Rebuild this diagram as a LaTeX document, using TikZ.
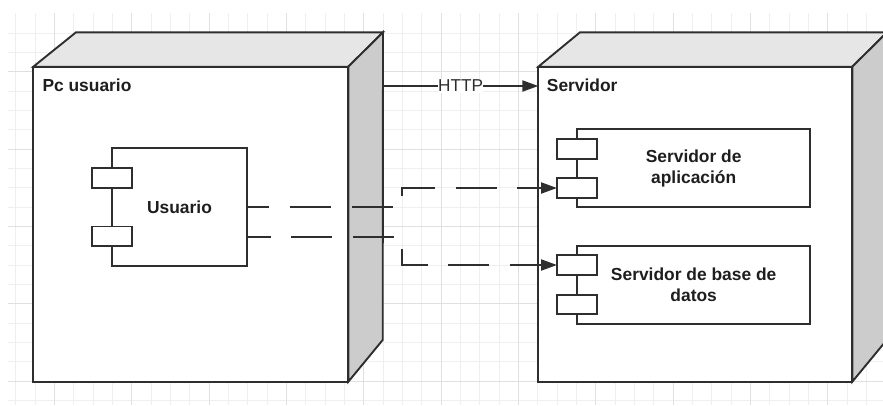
\documentclass[tikz,border=0pt]{standalone}
\usepackage{fontspec}
\setmainfont{Liberation Sans}
\usetikzlibrary{arrows.meta,calc}
\definecolor{edge}{HTML}{2E2E2E}
\definecolor{ink}{HTML}{1E1E1E}
\definecolor{topface}{HTML}{E6E6E6}
\definecolor{sideface}{HTML}{CCCCCC}
\definecolor{gridminor}{HTML}{EFEFEF}
\definecolor{gridmajor}{HTML}{E0E0E0}
\begin{document}
\begin{tikzpicture}[x=1pt,y=-1pt,
  box/.style={draw=edge, fill=white, line width=1.9pt, rectangle,
    inner sep=0pt, outer sep=0pt, anchor=north west},
  face/.style={draw=edge, line width=1.9pt, line join=miter},
  comp/.style={box, font=\fontsize{17.4}{21}\selectfont\bfseries, text=ink, align=center},
  port/.style={box, minimum width=40pt, minimum height=19.7pt},
  title/.style={anchor=base west, inner sep=0pt, text=ink,
    font=\fontsize{17.4}{21}\selectfont\bfseries},
  httplabel/.style={fill=white, inner xsep=0pt, inner ysep=1pt, text=edge,
    font=\fontsize{17.2}{21}\selectfont},
  flow/.style={draw=edge, line width=2pt, -{Triangle[length=16pt,width=11pt]}},
  dep/.style={draw=edge, line width=2pt, dash pattern=on 41pt off 20.6pt,
    -{Triangle[length=16pt,width=11pt]}}]

\useasboundingbox (0,0) rectangle (883,405);
\clip (0,0) rectangle (883,405);

% background grid
\foreach \k in {0,...,44}
  \draw[gridminor, line width=1pt] ({15.7+19.333*\k},13.3) -- ++(0,392);
\foreach \k in {1,...,20}
  \draw[gridminor, line width=1pt] (8,{13.7+19.333*\k}) -- (883,{13.7+19.333*\k});
\foreach \k in {2,6,...,42}
  \draw[gridmajor, line width=1pt] ({15.7+19.333*\k},13.3) -- ++(0,392);
\foreach \k in {3,7,...,19}
  \draw[gridmajor, line width=1pt] (8,{13.7+19.333*\k}) -- (883,{13.7+19.333*\k});

% node "Pc usuario"
\node[box, minimum width=315pt, minimum height=315pt] (pc) at (33.3,66.7) {};
\path[face, fill=topface] (pc.north west) -- ($(pc.north west)+(42.7,-34.4)$)
  -- ($(pc.north east)+(34.7,-34.4)$) -- (pc.north east) -- cycle;
\path[face, fill=sideface] (pc.north east) -- ($(pc.north east)+(34.7,-34.4)$)
  -- ($(pc.south east)+(34.4,-41.7)$) -- (pc.south east) -- cycle;
\node[title] (pctitle) at (42.3,91.7) {Pc usuario};

% node "Servidor"
\node[box, minimum width=314pt, minimum height=315pt] (srv) at (538.3,66.7) {};
\path[face, fill=topface] (srv.north west) -- ($(srv.north west)+(41.7,-34.4)$)
  -- ($(srv.north east)+(34.7,-34.4)$) -- (srv.north east) -- cycle;
\path[face, fill=sideface] (srv.north east) -- ($(srv.north east)+(34.7,-34.4)$)
  -- ($(srv.south east)+(34.4,-41.7)$) -- (srv.south east) -- cycle;
\node[title] (srvtitle) at (546.7,91.7) {Servidor};

% components
\node[comp, minimum width=135.6pt, minimum height=117.4pt] (usr) at (111.7,148.3) {Usuario};
\node[port] (usrp1) at (91.7,168.3) {};
\node[port] (usrp2) at (91.7,226.5) {};

\node[comp, minimum width=232.7pt, minimum height=77.4pt] (app) at (577.3,129.3)
  {Servidor de\\aplicación};
\node[port] (appp1) at (557,139) {};
\node[port] (appp2) at (557,178.15) {};

\node[comp, minimum width=232.7pt, minimum height=78pt] (db) at (577.3,246)
  {Servidor de base de\\datos};
\node[port] (dbp1) at (557,255.15) {};
\node[port] (dbp2) at (557,294.7) {};

% connectors
\coordinate (pcport) at ($(pc.north east)+(34.7,19.3)$);
\draw[flow] (pcport) -- (pcport -| srv.west) node[midway, httplabel] (http) {HTTP};

\draw[dep, dash phase=19pt] (usr.east) -- ++(155,0) |- (appp2.west);
\draw[dep, dash phase=17.6pt] ($(usr.east)+(0,30)$) -- ++(155,0) |- (dbp1.west);
\end{tikzpicture}
\end{document}
